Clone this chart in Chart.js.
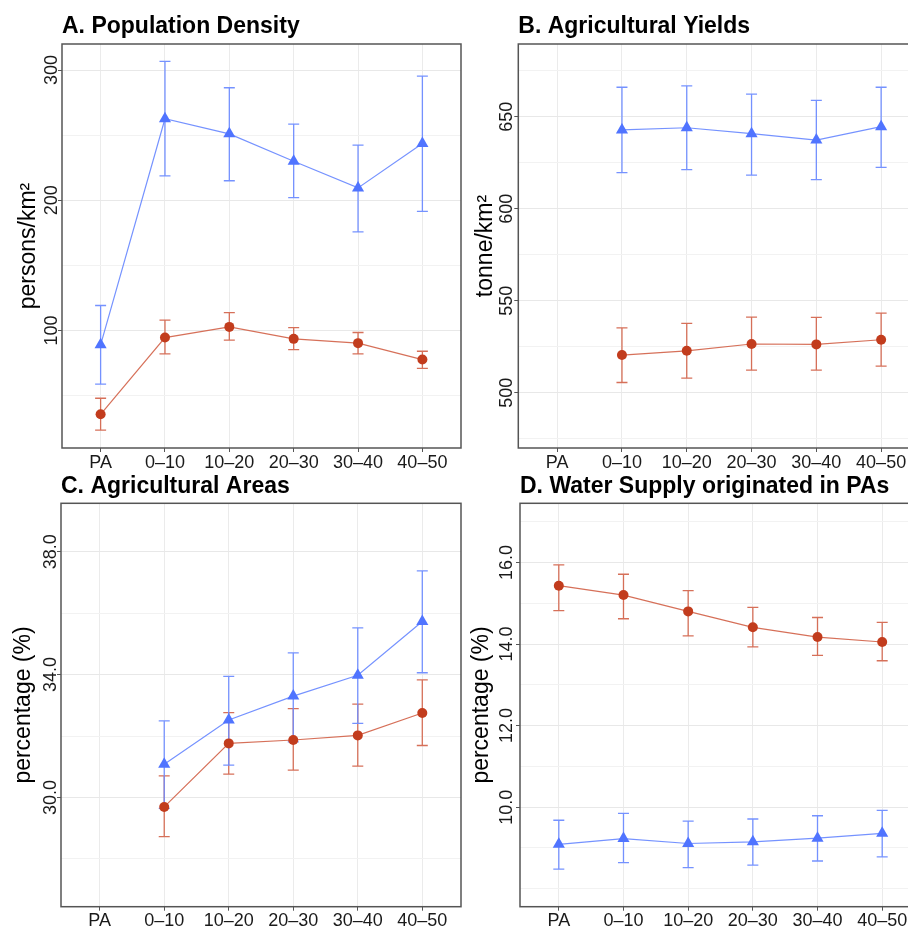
<!DOCTYPE html>
<html><head><meta charset="utf-8">
<script src="https://cdn.jsdelivr.net/npm/chart.js@4.4.1/dist/chart.umd.min.js"></script>
<style>
html,body{margin:0;padding:0;background:#fff;overflow:hidden;width:908px;height:927px;}
#wrap{position:relative;width:908px;height:927px;overflow:hidden;background:#fff;}
canvas{position:absolute;display:block;}
</style></head><body>
<div id="wrap">
<canvas id="cA"></canvas>
<canvas id="cB"></canvas>
<canvas id="cC"></canvas>
<canvas id="cD"></canvas>
</div>
<script>
// ---------- data ----------
const categories = ['PA', '0–10', '10–20', '20–30', '30–40', '40–50'];

// A. Population Density (persons/km²)
const popBlue   = [89.0, 262.6, 251.0, 230.0, 209.5, 243.6];
const popBlueLo = [58.8, 218.8, 215.0, 202.0, 175.7, 191.5];
const popBlueHi = [119.2, 306.6, 286.4, 258.5, 242.3, 295.4];
const popRed    = [35.7, 94.6, 102.8, 93.6, 90.3, 77.7];
const popRedLo  = [23.6, 82.0, 92.6, 85.4, 82.0, 71.0];
const popRedHi  = [48.0, 108.0, 113.8, 102.3, 98.5, 84.1];

// B. Agricultural Yields (tonne/km²)
const yldBlue   = [null, 642.8, 644.0, 640.8, 637.3, 644.6];
const yldBlueLo = [null, 619.6, 621.2, 618.3, 615.8, 622.5];
const yldBlueHi = [null, 666.0, 666.7, 662.3, 658.9, 666.0];
const yldRed    = [null, 520.5, 522.8, 526.5, 526.3, 528.8];
const yldRedLo  = [null, 505.6, 508.0, 512.3, 512.3, 514.5];
const yldRedHi  = [null, 535.3, 537.7, 541.1, 541.0, 543.3];

// C. Agricultural Areas (%)
const areaBlue   = [null, 31.08, 32.52, 33.30, 33.98, 35.73];
const areaBlueLo = [null, 29.64, 31.05, 31.81, 32.41, 34.06];
const areaBlueHi = [null, 32.49, 33.94, 34.71, 35.52, 37.38];
const areaRed    = [null, 29.69, 31.76, 31.87, 32.02, 32.75];
const areaRedLo  = [null, 28.72, 30.76, 30.89, 31.02, 31.69];
const areaRedHi  = [null, 30.70, 32.76, 32.89, 33.04, 33.83];

// D. Water Supply originated in PAs (%)
const waterRed    = [15.43, 15.20, 14.80, 14.41, 14.17, 14.05];
const waterRedLo  = [14.82, 14.62, 14.20, 13.93, 13.72, 13.59];
const waterRedHi  = [15.94, 15.71, 15.31, 14.90, 14.65, 14.53];
const waterBlue   = [9.09, 9.23, 9.11, 9.15, 9.24, 9.36];
const waterBlueLo = [8.48, 8.64, 8.52, 8.58, 8.68, 8.78];
const waterBlueHi = [9.68, 9.85, 9.66, 9.71, 9.79, 9.92];

// tick labels
const ticksA = [100, 200, 300];
const ticksB = [500, 550, 600, 650];
const ticksC = [30.0, 34.0, 38.0];
const ticksD = [10.0, 12.0, 14.0, 16.0];

// ---------- styling ----------
const FAMILY = '"Liberation Sans", Arial, Helvetica, sans-serif';
const BLUE_PT = '#5074ff', BLUE_LN = 'rgba(110,140,255,0.95)';
const RED_PT = '#c23c1d', RED_LN = 'rgba(212,104,80,0.95)';
const TICK_FONT = 18, TITLE_FONT = 23, AXIS_TITLE_FONT = 23;

const measureCtx = document.createElement('canvas').getContext('2d');
function textW(s, size) { measureCtx.font = size + 'px ' + FAMILY; return measureCtx.measureText(s).width; }

const errPlugin = {
  id: 'errbars',
  beforeDatasetsDraw(chart) {
    const ctx = chart.ctx, ys = chart.scales.y;
    chart.data.datasets.forEach((ds, di) => {
      const meta = chart.getDatasetMeta(di);
      ctx.save();
      ctx.strokeStyle = ds.borderColor;
      ctx.lineWidth = 1.3;
      meta.data.forEach((pt, i) => {
        const lo = ds.errLo[i], hi = ds.errHi[i];
        if (lo == null || hi == null) return;
        const x = pt.x, y1 = ys.getPixelForValue(lo), y2 = ys.getPixelForValue(hi);
        ctx.beginPath();
        ctx.moveTo(x, y1); ctx.lineTo(x, y2);
        ctx.moveTo(x - 5.5, y1); ctx.lineTo(x + 5.5, y1);
        ctx.moveTo(x - 5.5, y2); ctx.lineTo(x + 5.5, y2);
        ctx.stroke();
      });
      ctx.restore();
    });
  },
  afterDraw(chart) {
    const a = chart.chartArea, ctx = chart.ctx;
    ctx.save();
    ctx.strokeStyle = '#555';
    ctx.lineWidth = 1.5;
    ctx.strokeRect(a.left, a.top, a.right - a.left, a.bottom - a.top);
    ctx.restore();
  }
};

function series(label, vals, lo, hi, ptColor, lnColor, style, radius) {
  return {
    label,
    data: vals.map((v, i) => ({ x: i, y: v })),
    errLo: lo, errHi: hi,
    borderColor: lnColor, backgroundColor: ptColor,
    pointBackgroundColor: ptColor, pointBorderColor: ptColor,
    pointStyle: style, pointRadius: radius, pointBorderWidth: 0,
    borderWidth: 1.2, tension: 0, spanGaps: false
  };
}

function makePanel(p) {
  const cv = document.getElementById(p.id);
  cv.width = p.w; cv.height = p.h;
  cv.style.left = p.left + 'px'; cv.style.top = p.top + 'px';
  cv.style.width = p.w + 'px'; cv.style.height = p.h + 'px';
  const isMajor = v => p.majors.some(m => Math.abs(m - v) < 1e-6);
  const widest = Math.max(...p.majors.map(m => textW(p.fmt(m), TICK_FONT)));
  const yPad = p.labelOffset - 4 - widest / 2;
  return new Chart(cv, {
    type: 'line',
    data: { datasets: p.datasets },
    plugins: [errPlugin],
    options: {
      responsive: false, animation: false,
      layout: { padding: { left: 0, right: p.padRight, top: 0, bottom: 0 } },
      plugins: {
        legend: { display: false },
        tooltip: { enabled: false },
        title: {
          display: true, text: p.title, align: 'start', fullSize: false,
          color: '#000', font: { family: FAMILY, size: TITLE_FONT, weight: 'bold' },
          padding: { top: p.titleTop, bottom: p.titleBottom }
        }
      },
      scales: {
        x: {
          type: 'linear', min: -0.6, max: 5.6,
          afterFit: s => { s.height = p.xH; },
          border: { display: false },
          grid: { color: '#ebebeb', lineWidth: 1, tickLength: 4, tickColor: '#555' },
          ticks: {
            stepSize: 1, includeBounds: false, autoSkip: false, maxRotation: 0, minRotation: 0,
            padding: 0, color: '#1a1a1a', font: { family: FAMILY, size: TICK_FONT },
            callback: v => (categories[v] !== undefined ? categories[v] : '')
          }
        },
        y: {
          type: 'linear', min: p.min, max: p.max,
          afterFit: s => { s.width = p.yW; },
          border: { display: false },
          grid: {
            color: c => (c.tick && isMajor(c.tick.value)) ? '#e8e8e8' : '#f2f2f2',
            lineWidth: 1, tickLength: 4,
            tickColor: c => (c.tick && isMajor(c.tick.value)) ? '#555' : 'rgba(0,0,0,0)'
          },
          ticks: {
            stepSize: p.step, includeBounds: false, autoSkip: false,
            minRotation: 90, maxRotation: 90, crossAlign: 'center', padding: yPad,
            color: '#1a1a1a', font: { family: FAMILY, size: TICK_FONT },
            callback: v => isMajor(v) ? p.fmt(v) : ''
          },
          title: {
            display: true, text: p.yTitle, color: '#000',
            font: { family: FAMILY, size: AXIS_TITLE_FONT },
            padding: { top: p.yTitlePad, bottom: 0 }
          }
        }
      }
    }
  });
}

makePanel({
  id: 'cA', left: 0, top: 0, w: 480, h: 480, yW: 62, padRight: 19, xH: 32,
  title: 'A. Population Density', titleTop: 13, titleBottom: 3.4,
  yTitle: 'persons/km²', yTitlePad: 15, labelOffset: 10.3,
  min: 9.8, max: 320, step: 50, majors: ticksA, fmt: v => String(v),
  datasets: [
    series('Red series', popRed, popRedLo, popRedHi, RED_PT, RED_LN, 'circle', 5),
    series('Blue series', popBlue, popBlueLo, popBlueHi, BLUE_PT, BLUE_LN, 'triangle', 7)
  ]
});

makePanel({
  id: 'cB', left: 470, top: 0, w: 470, h: 480, yW: 48.3, padRight: 20, xH: 32,
  title: 'B. Agricultural Yields', titleTop: 13, titleBottom: 3.4,
  yTitle: 'tonne/km²', yTitlePad: 2, labelOffset: 10.8,
  min: 470, max: 689.5, step: 25, majors: ticksB, fmt: v => String(v),
  datasets: [
    series('Red series', yldRed, yldRedLo, yldRedHi, RED_PT, RED_LN, 'circle', 5),
    series('Blue series', yldBlue, yldBlueLo, yldBlueHi, BLUE_PT, BLUE_LN, 'triangle', 7)
  ]
});

makePanel({
  id: 'cC', left: 0, top: 460, w: 480, h: 467, yW: 61, padRight: 19, xH: 20.3,
  title: 'C. Agricultural Areas', titleTop: 13, titleBottom: 2.7,
  yTitle: 'percentage (%)', yTitlePad: 10.2, labelOffset: 10.2,
  min: 26.44, max: 39.58, step: 2, majors: ticksC, fmt: v => v.toFixed(1),
  datasets: [
    series('Red series', areaRed, areaRedLo, areaRedHi, RED_PT, RED_LN, 'circle', 5),
    series('Blue series', areaBlue, areaBlueLo, areaBlueHi, BLUE_PT, BLUE_LN, 'triangle', 7)
  ]
});

makePanel({
  id: 'cD', left: 470, top: 460, w: 470, h: 467, yW: 50, padRight: 19, xH: 20.3,
  title: 'D. Water Supply originated in PAs', titleTop: 13, titleBottom: 2.7,
  yTitle: 'percentage (%)', yTitlePad: -1.8, labelOffset: 12.5,
  min: 7.56, max: 17.45, step: 1, majors: ticksD, fmt: v => v.toFixed(1),
  datasets: [
    series('Red series', waterRed, waterRedLo, waterRedHi, RED_PT, RED_LN, 'circle', 5),
    series('Blue series', waterBlue, waterBlueLo, waterBlueHi, BLUE_PT, BLUE_LN, 'triangle', 7)
  ]
});
</script>
</body></html>
